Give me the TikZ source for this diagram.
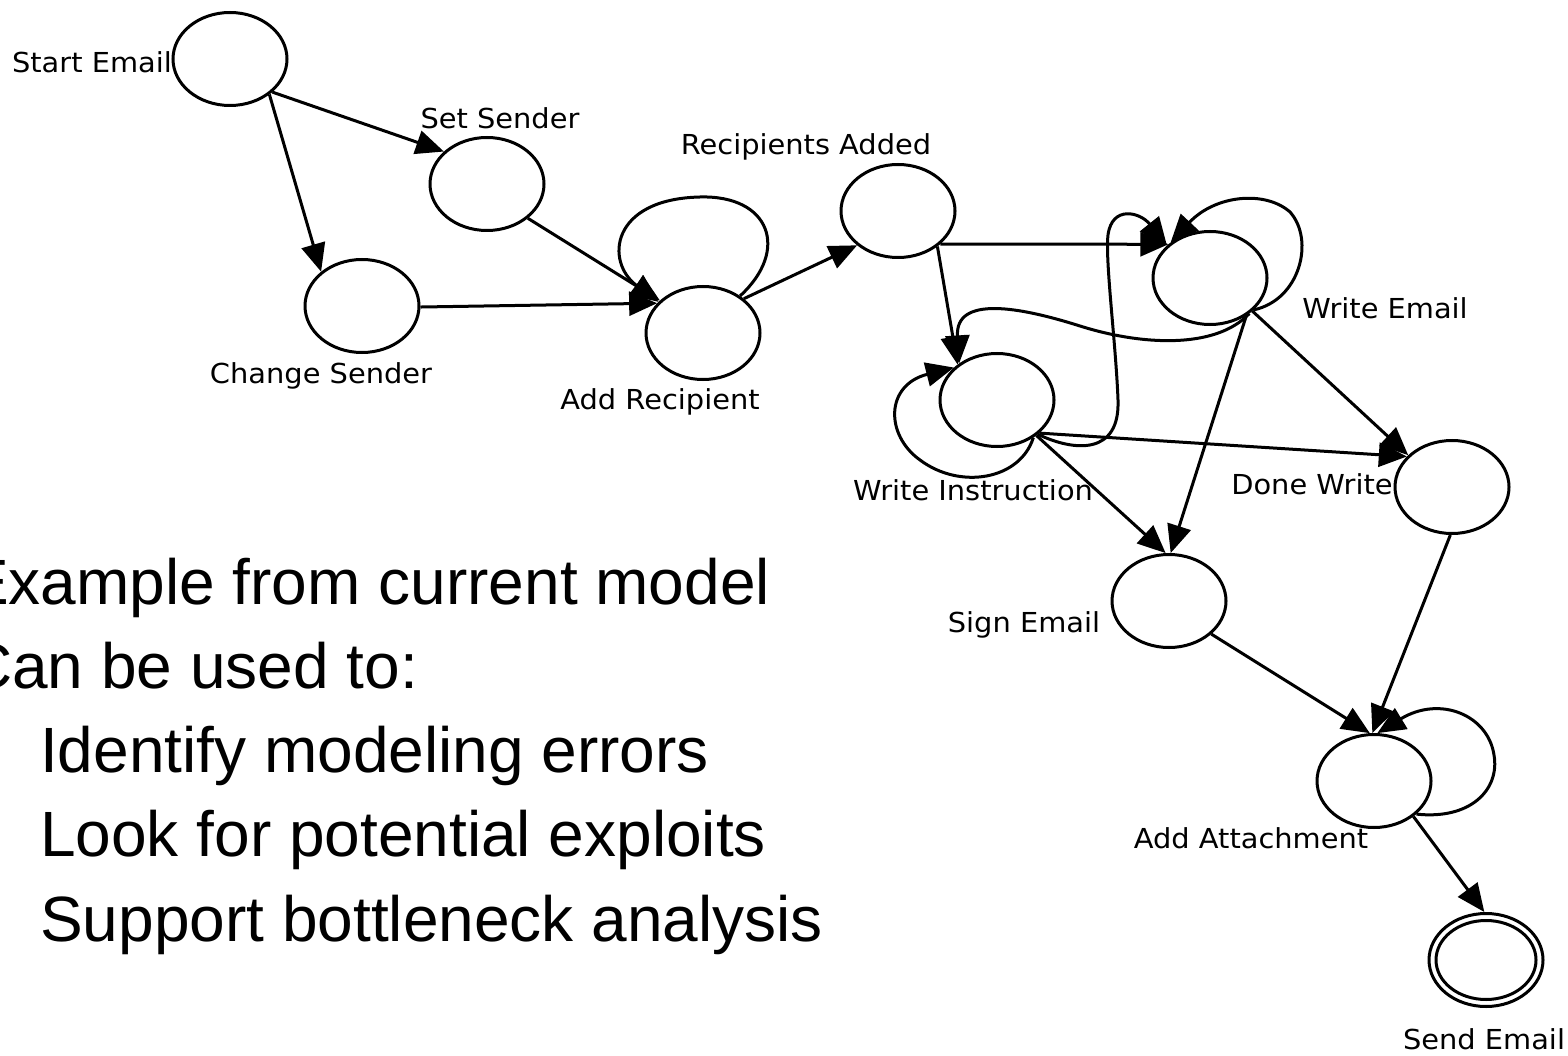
\documentclass[tikz,border=0pt]{standalone}
\usepackage{fontspec}
\usetikzlibrary{arrows.meta,shapes.geometric}
\newfontfamily\lblfont[FakeStretch=1.05]{DejaVu Sans}
\newfontfamily\slidefont{Liberation Sans}

\begin{document}
\begin{tikzpicture}[x=1pt,y=-1pt,
  state/.style={ellipse, draw, line width=3pt, minimum width=114pt,
    minimum height=93pt, inner sep=0pt},
  edge/.style={line width=3pt, -{Triangle[length=28pt,width=24pt]}},
  lbl/.style={anchor=base, inner sep=0pt,
    font=\lblfont\fontsize{27.5}{33}\selectfont},
  bullet/.style={anchor=base west, inner sep=0pt,
    font=\slidefont\fontsize{64}{77}\selectfont}
]
\useasboundingbox (0,0) rectangle (1568,1056);

% states
\node[state] (SE) at (230,59)   {};
\node[state] (SS) at (487,184)  {};
\node[state] (CS) at (362,306)  {};
\node[state] (AR) at (703,333)  {};
\node[state] (RA) at (898,211)  {};
\node[state] (WE) at (1210,278) {};
\node[state] (WI) at (997,400)  {};
\node[state] (DW) at (1452,487) {};
\node[state] (SG) at (1169,601) {};
\node[state] (AA) at (1374,781) {};
\node[state] (SD) at (1486,960) {};
% final state: inner ring
\draw[line width=3pt] (SD.center) ellipse [x radius=50, y radius=39.5];

% state labels
\node[lbl] (lSE) at (92,73)     {Start Email};
\node[lbl] (lSS) at (500,129)   {Set Sender};
\node[lbl] (lCS) at (321,383)   {Change Sender};
\node[lbl] (lRA) at (806,155)   {Recipients Added};
\node[lbl] (lAR) at (660,409)   {Add Recipient};
\node[lbl] (lWI) at (973,500)   {Write Instruction};
\node[lbl] (lWE) at (1385,319)  {Write Email};
\node[lbl] (lDW) at (1312,494)  {Done Write};
\node[lbl] (lSG) at (1024,632)  {Sign Email};
\node[lbl] (lAA) at (1251,848)  {Add Attachment};
\node[lbl] (lSD) at (1484,1049) {Send Email};

% slide text
\node[bullet] (t1) at (-34,604) {Example from current model};
\node[bullet] (t2) at (-34,688) {Can be used to:};
\node[bullet] (t3) at (40,772)  {Identify modeling errors};
\node[bullet] (t4) at (40,856)  {Look for potential exploits};
\node[bullet] (t5) at (40,941)  {Support bottleneck analysis};

% transitions
\draw[edge] (SE.-38) -- (SS.143);
\draw[edge] (SE.-42) -- (CS.140);
\draw[edge] (SS.-40) -- (AR.143);
\draw[edge] (CS.-1)  -- (AR.147);
\draw[edge] (AR.45) .. controls (790,250) and (770,195) .. (700,197)
                    .. controls (610,199) and (605,262) .. (AR.145);
\draw[edge] (AR.40)  -- (RA.220);
\draw[edge] (RA.-38) -- (WE.141);
\draw[edge] (RA.-42) -- (WI.138);

\draw[edge] (WE.-42) .. controls (1215,350) and (1140,345) .. (1080,326)
                     .. controls (1020,307) and (955,295) .. (WI.136);
\draw[edge] (WI.-40) .. controls (1075,452) and (1120,455) .. (1118,400)
                     .. controls (1116,345) and (1105,260) .. (1108,235)
                     .. controls (1112,205) and (1140,212) .. (WE.143);
\draw[edge] (WE.-36) .. controls (1300,300) and (1315,240) .. (1290,212)
                     .. controls (1265,190) and (1215,195) .. (WE.138);
\draw[edge] (WI.-46) .. controls (1020,480) and (960,490) .. (920,460)
                     .. controls (885,435) and (885,385) .. (WI.143);

\draw[edge] (WE.-38) -- (DW.144);
\draw[edge] (WE.-46) -- (SG.88);
\draw[edge] (WI.-38) -- (DW.146);
\draw[edge] (WI.-42) -- (SG.94);

\draw[edge] (DW.-92) -- (AA.92);
\draw[edge] (SG.-38) -- (AA.95);
\draw[edge] (AA.-38) .. controls (1470,820) and (1500,790) .. (1494,755)
                     .. controls (1488,715) and (1440,695) .. (AA.86);
\draw[edge] (AA.-42) -- (SD.92);
\end{tikzpicture}
\end{document}
